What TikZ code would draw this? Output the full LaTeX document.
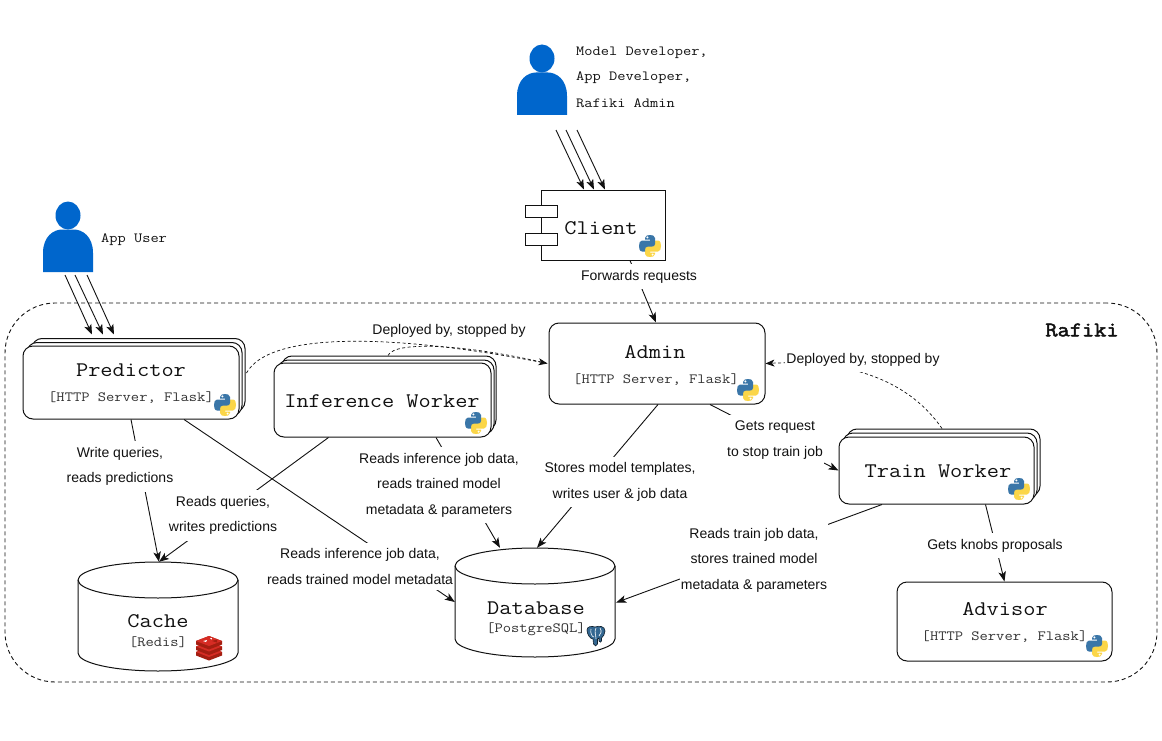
\documentclass[tikz,border=0pt]{standalone}
\usepackage{fontspec}
\setmainfont{Liberation Sans}
\setmonofont[FakeStretch=1.14]{Latin Modern Mono}
\newfontfamily\rafikifont[FakeStretch=1.14,FakeBold=2.2]{Latin Modern Mono}
\usetikzlibrary{arrows.meta}
\definecolor{persblue}{HTML}{0066CC}
\definecolor{pyblue}{HTML}{3A76A8}
\definecolor{pyyellow}{HTML}{FBD648}
\definecolor{redisdark}{HTML}{A41E11}
\definecolor{redislight}{HTML}{D62C24}
\definecolor{pgblue}{HTML}{336791}
\definecolor{ink}{HTML}{111111}
\definecolor{subink}{HTML}{333333}
\tikzset{
  pyhalf/.pic={
    \fill (-5,-8) .. controls (-5,-10.5) and (-2,-11) .. (0,-11)
      .. controls (2,-11) and (5,-10.5) .. (5,-8) -- (5,-2)
      .. controls (5,0) and (3.5,0.5) .. (2,0.5) -- (-2,0.5)
      .. controls (-4,0.5) and (-5,2) .. (-5,3.5) -- (-5,5.5) -- (-8,5.5)
      .. controls (-10.5,5.5) and (-11,2) .. (-11,0)
      .. controls (-11,-3) and (-10,-5.5) .. (-8,-5.5) -- (0,-5.5) -- (0,-6.5) -- (-5,-6.5) -- cycle;
    \fill[white] (-2.6,-8.6) circle[radius=1.1pt];
  },
  pythonicon/.pic={
    \pic[fill=pyyellow,rotate=180,color=pyyellow] {pyhalf};
    \pic[fill=pyblue,color=pyblue] {pyhalf};
  },
  redisicon/.pic={
    \foreach \d in {6,0.5,-5}{
      \fill[redisdark] (-13,\d) -- (0,\d-5) -- (13,\d) -- (13,\d+3.5) -- (0,\d+8.5) -- (-13,\d+3.5) -- cycle;
      \fill[redislight] (-13,\d) -- (0,\d-5) -- (13,\d) -- (0,\d+5) -- cycle;
    }
    \fill[white] (-6,-5) -- (-2,-6) -- (-3,-4) -- cycle;
    \fill[white] (1,-8) -- (3,-8) -- (2.5,-6.5) -- cycle;
    \fill[redisdark] (3,-5) -- (8,-6.5) -- (8,-3.5) -- cycle;
  },
  pgicon/.pic={
    \fill[pgblue,draw=black!70!pgblue,line width=.6pt]
      (-9,-6) .. controls (-9,-10) and (-4,-10) .. (-1,-9)
      .. controls (3,-10.5) and (9,-10) .. (9,-5)
      .. controls (9,-2) and (7,1) .. (5.5,2) -- (5.5,5) .. controls (5.5,6.5) and (3.5,6.5) .. (3,5)
      -- (3,2) -- (1.5,3) -- (1.5,8) .. controls (1.5,10.5) and (-2,10.5) .. (-2.5,8) -- (-3,3)
      .. controls (-6,3) and (-9,-2) .. (-9,-6) -- cycle;
    \draw[white,line width=.6pt] (-5,-7) .. controls (-6,-3) and (-4,1) .. (-2,1);
    \draw[white,line width=.6pt] (0,-8) .. controls (-2,-4) and (0,-1) .. (0,3);
    \draw[white,line width=.6pt] (4,-8) .. controls (6,-5) and (5,-2) .. (3,0);
  },
  personicon/.pic={
    \fill[persblue] (0,-56.5) ellipse[x radius=12.5pt, y radius=14pt];
    \fill[persblue] (-25,0) -- (-25,-19) .. controls (-25,-36) and (-14,-42.5) .. (-6,-42.5)
      -- (6,-42.5) .. controls (14,-42.5) and (25,-36) .. (25,-19) -- (25,0) -- cycle;
  },
  box/.style={draw=ink,fill=white,rounded corners=10pt,line width=1pt,inner sep=0pt,
              minimum width=#1},
  titletext/.style={font=\fontsize{20.8}{24}\ttfamily,text=ink,inner sep=0pt},
  subtext/.style={font=\fontsize{14.1}{16}\ttfamily,text=subink,inner sep=0pt},
  actor/.style={font=\fontsize{14}{25}\ttfamily,text=ink,inner sep=0pt,anchor=west},
  lab/.style={font=\fontsize{14}{25.4}\selectfont,text=ink,align=center,fill=white,
              inner xsep=1pt,inner ysep=6pt},
  conn/.style={draw=ink,line width=.9pt,-{Stealth[length=10pt,width=7.5pt,inset=2.5pt]}},
  deploy/.style={draw=ink,line width=.7pt,dash pattern=on 3pt off 2.5pt},
  deployarrow/.style={deploy,-{Stealth[length=9pt,width=7pt,inset=2.5pt]}},
}
\newcommand{\cylbody}[3]{%
  \node[inner sep=0pt,minimum width=160pt,minimum height=109pt] (#1) at (#2,#3) {};
  \draw[draw=ink,line width=1pt,fill=white,shift={(#2,#3)}]
    (-80,-36.5) -- (-80,36.5) .. controls (-80,46.5) and (-44,54.5) .. (0,54.5)
    .. controls (44,54.5) and (80,46.5) .. (80,36.5) -- (80,-36.5)
    .. controls (80,-46.5) and (44,-54.5) .. (0,-54.5)
    .. controls (-44,-54.5) and (-80,-46.5) .. (-80,-36.5) -- cycle;
  \draw[draw=ink,line width=1pt,shift={(#2,#3)}]
    (-80,-36.5) .. controls (-80,-26.5) and (-44,-18.5) .. (0,-18.5)
    .. controls (44,-18.5) and (80,-26.5) .. (80,-36.5);
}
\begin{document}
\begin{tikzpicture}[x=1pt,y=-1pt]
\useasboundingbox (0,0) rectangle (1162,741);
\fill[white] (0,0) rectangle (1162,741);

% Rafiki boundary
\node[draw=ink,line width=.9pt,dash pattern=on 4pt off 3pt,rounded corners=50pt,inner sep=0pt,
      minimum width=1152pt,minimum height=379pt] (rafiki) at (581,492.5) {};
\node[font=\fontsize{20.8}{24}\rafikifont,text=ink,inner sep=0pt] (rafikilabel) at (1082,330) {Rafiki};

% people
\coordinate (dev) at (542,115);
\coordinate (appuser) at (68,272);
\pic at (dev) {personicon};
\pic at (appuser) {personicon};
\node[actor] (devone) at (576,53) {Model Developer,};
\node[actor] (devtwo) at (576,78) {App Developer,};
\node[actor] (devthree) at (576,103) {Rafiki Admin};
\node[actor] (applabel) at (101,239.5) {App User};

% client
\node[draw=ink,fill=white,line width=1pt,minimum width=124pt,minimum height=70pt,inner sep=0pt] (client) at (603,225) {};
\node[draw=ink,fill=white,line width=1pt,minimum width=32pt,minimum height=12pt,inner sep=0pt] (tabone) at (541,211) {};
\node[draw=ink,fill=white,line width=1pt,minimum width=32pt,minimum height=12pt,inner sep=0pt] (tabtwo) at (541,239.5) {};
\node[titletext] (clienttext) at (601,228) {Client};

% predictor
\node[box=213pt,minimum height=73pt] (predback) at (138.5,375) {};
\node[box=215pt,minimum height=73pt] (predmid) at (134.5,379) {};
\node[box=216pt,minimum height=73pt] (pred) at (131,382.5) {};
\node[titletext] (predtext) at (131,370) {Predictor};
\node[subtext] (predsub) at (131,398) {[HTTP Server, Flask]};

% inference worker
\node[box=214pt,minimum height=74pt] (infback) at (389,393) {};
\node[box=216pt,minimum height=74pt] (infmid) at (386,397) {};
\node[box=217pt,minimum height=74pt] (inf) at (382.5,400) {};
\node[titletext] (inftext) at (382,401) {Inference Worker};

% admin
\node[box=216pt,minimum height=81pt] (admin) at (657,363.5) {};
\node[titletext] (admintext) at (655,352) {Admin};
\node[subtext] (adminsub) at (656,380) {[HTTP Server, Flask]};

% train worker
\node[box=193pt,minimum height=67pt] (trainback) at (943.5,462.5) {};
\node[box=194pt,minimum height=67pt] (trainmid) at (940,466.5) {};
\node[box=195pt,minimum height=67pt] (train) at (936.5,470.5) {};
\node[titletext] (traintext) at (938,471) {Train Worker};

% advisor
\node[box=215pt,minimum height=79pt] (advisor) at (1004.5,621.5) {};
\node[titletext] (advisortext) at (1005,609) {Advisor};
\node[subtext] (advisorsub) at (1004.5,637) {[HTTP Server, Flask]};

% stores
\cylbody{cache}{158}{616.5}
\node[titletext] (cachetext) at (158,621) {Cache};
\node[subtext] (cachesub) at (158,642) {[Redis]};
\cylbody{db}{535}{602.5}
\node[titletext] (dbtext) at (536,608) {Database};
\node[subtext] (dbsub) at (536,629) {[PostgreSQL]};

% icons
\pic at (225,405) {pythonicon};
\pic at (476,423) {pythonicon};
\pic at (650,246) {pythonicon};
\pic at (748,390) {pythonicon};
\pic at (1019,489) {pythonicon};
\pic at (1097,646) {pythonicon};
\pic at (209,646) {redisicon};
\pic at (596,636) {pgicon};

% actor arrows
\draw[conn] ([shift={(14pt,-15pt)}]dev) -- ([xshift=-19pt]client.north);
\draw[conn] ([shift={(24pt,-15pt)}]dev) -- ([xshift=-9pt]client.north);
\draw[conn] ([shift={(35pt,-15pt)}]dev) -- ([xshift=2pt]client.north);
\draw[conn] ([shift={(-3pt,-3pt)}]appuser) -- ([shift={(-39pt,11pt)}]pred.north);
\draw[conn] ([shift={(7pt,-3pt)}]appuser) -- ([shift={(-28pt,11pt)}]pred.north);
\draw[conn] ([shift={(19pt,-3pt)}]appuser) -- ([shift={(-17pt,11pt)}]pred.north);

% connectors
\draw[conn] ([xshift=27pt]client.south) -- ([xshift=-1pt]admin.north);
\draw[conn] (pred.south) -- ([xshift=1pt]cache.north);
\draw[conn] ([xshift=-54pt]inf.south) -- ([xshift=1pt]cache.north);
\draw[conn] ([xshift=53pt]pred.south) -- ([yshift=0.5pt]db.west);
\draw[conn] ([xshift=53.5pt]inf.south) -- ([xshift=-35pt]db.north);
\draw[conn] ([xshift=1pt]admin.south) -- ([xshift=2pt]db.north);
\draw[conn] ([xshift=53pt]admin.south) -- (train.west);
\draw[conn] ([xshift=-54.5pt]train.south) -- ([shift={(1pt,0pt)}]db.east);
\draw[conn] ([xshift=49pt]train.south) -- (advisor.north);

% deployed-by curves
\draw[deployarrow] ([yshift=9.5pt]pred.east) ++(7pt,0) .. controls (270,330) and (400,335) .. ([shift={(-1pt,0pt)}]admin.west);
\draw[deploy] ([xshift=-1pt]infback.north) .. controls (395,340) and (470,345) .. ([shift={(-1pt,0pt)}]admin.west);
\draw[deployarrow] ([xshift=-1.5pt]trainback.north) .. controls (905,375) and (840,360) .. (admin.east);

% labels
\node[lab,inner ysep=1pt] (ldep1) at (449,330.5) {Deployed by, stopped by};
\node[lab] (ldep2) at (863,359.5) {Deployed by, stopped by};
\node[lab] (lfwd) at (639,276.5) {Forwards requests};
\node[lab] (lwq) at (120,466.5) {Write queries,\\reads predictions};
\node[lab] (lrq) at (223,515.5) {Reads queries,\\writes predictions};
\node[lab] (lri1) at (439,485) {Reads inference job data,\\reads trained model\\metadata \& parameters};
\node[lab] (lri2) at (360,566.5) {Reads inference job data,\\reads trained model metadata};
\node[lab] (lst) at (620,482) {Stores model templates,\\writes user \& job data};
\node[lab] (lgr) at (775,440) {Gets request\\to stop train job};
\node[lab] (lrt) at (754,560) {Reads train job data,\\stores trained model\\metadata \& parameters};
\node[lab] (lgk) at (995,545.5) {Gets knobs proposals};
\end{tikzpicture}
\end{document}
